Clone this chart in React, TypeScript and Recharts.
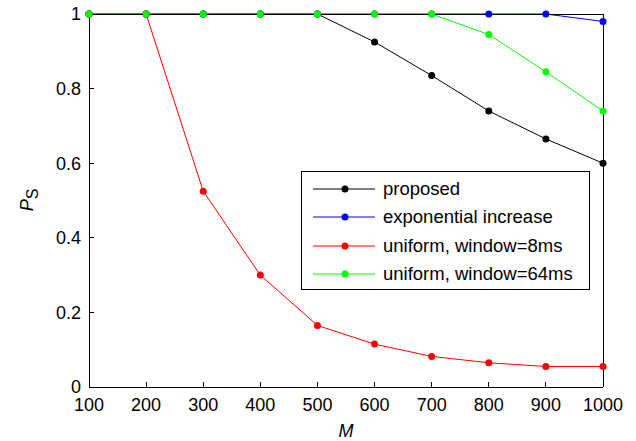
import React from 'react';
import { LineChart, Line, XAxis, YAxis } from 'recharts';

// M values on the x axis
const mValues = [100, 200, 300, 400, 500, 600, 700, 800, 900, 1000];

// P_S per scheme
const proposed = [1, 1, 1, 1, 1, 0.925, 0.835, 0.74, 0.665, 0.6];
const exponentialIncrease = [1, 1, 1, 1, 1, 1, 1, 1, 1, 0.98];
const uniform8ms = [1, 1, 0.525, 0.3, 0.165, 0.115, 0.082, 0.065, 0.055, 0.055];
const uniform64ms = [1, 1, 1, 1, 1, 1, 1, 0.945, 0.845, 0.74];

const yTicks = [0, 0.2, 0.4, 0.6, 0.8, 1];

const SERIES = [
  { key: 'proposed', name: 'proposed', color: '#000000', values: proposed },
  { key: 'expo', name: 'exponential increase', color: '#0000ff', values: exponentialIncrease },
  { key: 'u8', name: 'uniform, window=8ms', color: '#ff0000', values: uniform8ms },
  { key: 'u64', name: 'uniform, window=64ms', color: '#00ff00', values: uniform64ms },
];

const data = mValues.map((m, i) => {
  const row: any = { M: m };
  SERIES.forEach((s) => { row[s.key] = s.values[i]; });
  return row;
});

const FONT = 'Liberation Sans, Arial, Helvetica, sans-serif';
const tickStyle = { fontSize: 18, fill: '#000', fontFamily: FONT };
const axisLine = { stroke: '#000', shapeRendering: 'crispEdges' };
const tickLine = { stroke: '#000', shapeRendering: 'crispEdges' };

const YLabel = () => (
  <text x={33} y={200} transform="rotate(-90, 33, 200)" textAnchor="middle" fontFamily={FONT} fontSize={18} fill="#000">
    <tspan fontStyle="italic">P</tspan>
    <tspan fontSize={16} dy={5}>S</tspan>
  </text>
);

const ChartLegend = () => (
  <div
    style={{
      position: 'absolute', left: 301, top: 171, width: 287, height: 117,
      border: '1px solid #000', background: '#fff', fontFamily: FONT, fontSize: 18.5,
      boxSizing: 'content-box',
    }}
  >
    {SERIES.map((s, i) => (
      <div key={s.key} style={{ position: 'absolute', left: 11, top: 4 + i * 28.3, height: 26, display: 'flex', alignItems: 'center', whiteSpace: 'nowrap' }}>
        <svg width={62} height={10} style={{ display: 'block' }}>
          <line x1={0} y1={5} x2={62} y2={5} stroke={s.color} strokeWidth={1} />
          <circle cx={32} cy={5} r={3.5} fill={s.color} />
        </svg>
        <span style={{ marginLeft: 8, color: '#000' }}>{s.name}</span>
      </div>
    ))}
  </div>
);

export default function App() {
  return (
    <div style={{ position: 'absolute', left: 0, top: 0, width: 636, height: 441, background: '#fff' }}>
      <LineChart width={636} height={441} data={data} margin={{ top: 0, right: 0, bottom: 0, left: 0 }}>
        <XAxis
          dataKey="M" type="number" domain={[100, 1000]} ticks={mValues}
          height={54} tickSize={-5} tickMargin={16}
          axisLine={axisLine} tickLine={tickLine} tick={tickStyle}
          label={{ value: 'M', position: 'insideBottom', offset: 4, style: { fontStyle: 'italic', fontSize: 18, fill: '#000', fontFamily: FONT } }}
        />
        <XAxis
          xAxisId="top" orientation="top" type="number" domain={[100, 1000]} ticks={mValues}
          height={14} tickSize={-5} tick={false} axisLine={axisLine} tickLine={tickLine}
        />
        <YAxis
          type="number" domain={[0, 1]} ticks={yTicks} width={89}
          tickSize={-5} tickMargin={13} axisLine={axisLine} tickLine={tickLine} tick={tickStyle}
          tickFormatter={(v: number) => String(v)}
          label={<YLabel />}
        />
        <YAxis
          yAxisId="right" orientation="right" type="number" domain={[0, 1]} ticks={yTicks}
          width={33} tickSize={-5} tick={false} axisLine={axisLine} tickLine={tickLine}
        />
        {SERIES.map((s) => (
          <Line
            key={s.key} dataKey={s.key} name={s.name} type="linear"
            stroke={s.color} strokeWidth={1}
            dot={{ r: 3.5, fill: s.color, stroke: s.color, strokeWidth: 0 }}
            activeDot={false} isAnimationActive={false}
          />
        ))}
      </LineChart>
      <ChartLegend />
    </div>
  );
}
